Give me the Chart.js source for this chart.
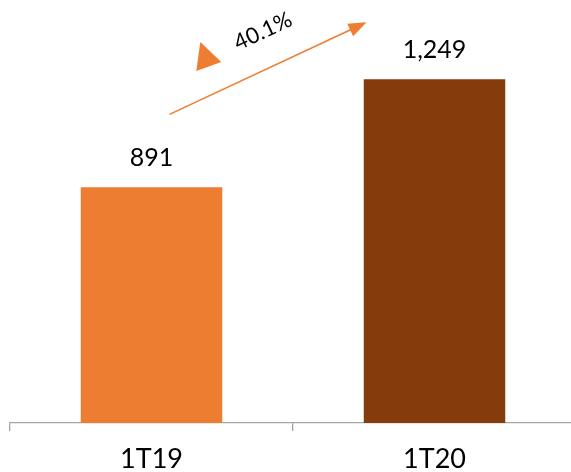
<!DOCTYPE html>
<html>
<head>
<meta charset="utf-8">
<script src="https://cdn.jsdelivr.net/npm/chart.js@4"></script>
<style>
  html, body { margin: 0; padding: 0; background: #fff; overflow: hidden; }
  #wrap { width: 590px; height: 472px; }
</style>
</head>
<body>
<div id="wrap"><canvas id="chart" width="590" height="472"></canvas></div>
<script>
// datos del gráfico
const periodos = ["1T19", "1T20"];
const valores = [891, 1249];
const etiquetas = ["891", "1,249"];
const colores = ["#ED7D31", "#843C0C"];
const crecimiento = "40.1%";

const fuente = "Lato, 'Noto Sans', sans-serif";

// etiquetas encima de las barras
const etiquetasBarras = {
  id: "etiquetasBarras",
  afterDatasetsDraw(chart) {
    const ctx = chart.ctx;
    const meta = chart.getDatasetMeta(0);
    ctx.save();
    ctx.fillStyle = "#000";
    ctx.font = "25px " + fuente;
    ctx.textAlign = "center";
    ctx.textBaseline = "middle";
    meta.data.forEach((bar, i) => {
      ctx.fillText(etiquetas[i], bar.x, bar.y - 29);
    });
    ctx.restore();
  },
};

// flecha de crecimiento entre barras
const flecha = {
  id: "flecha",
  afterDatasetsDraw(chart) {
    const ctx = chart.ctx;
    const meta = chart.getDatasetMeta(0);
    const b1 = meta.data[0];
    const b2 = meta.data[1];
    const x1 = b1.x + 18, y1 = b1.y - 73;
    const x2 = b2.x - 68, y2 = b2.y - 57;
    const ang = Math.atan2(y2 - y1, x2 - x1);
    const mx = (x1 + x2) / 2, my = (y1 + y2) / 2;

    ctx.save();
    ctx.strokeStyle = "#ED7D31";
    ctx.fillStyle = "#ED7D31";
    ctx.lineWidth = 1.6;
    ctx.beginPath();
    ctx.moveTo(x1, y1);
    ctx.lineTo(x2 - 14 * Math.cos(ang), y2 - 14 * Math.sin(ang));
    ctx.stroke();

    // punta
    ctx.save();
    ctx.translate(x2, y2);
    ctx.rotate(ang);
    ctx.beginPath();
    ctx.moveTo(0, 0);
    ctx.lineTo(-18, -7);
    ctx.lineTo(-18, 7);
    ctx.closePath();
    ctx.fill();
    ctx.restore();

    // triángulo
    const tx = mx - 62, ty = my - 10;
    ctx.beginPath();
    ctx.moveTo(tx - 9.7, ty + 12.7);
    ctx.lineTo(tx - 5.7, ty - 16.3);
    ctx.lineTo(tx + 15.3, ty + 3.7);
    ctx.closePath();
    ctx.fill();

    // texto
    ctx.translate(mx - 5, my - 37);
    ctx.rotate(ang);
    ctx.fillStyle = "#000";
    ctx.font = "22px " + fuente;
    ctx.textAlign = "center";
    ctx.textBaseline = "middle";
    ctx.fillText(crecimiento, 0, 0);
    ctx.restore();
  },
};

const grafico = new Chart(document.getElementById("chart"), {
  type: "bar",
  data: {
    labels: periodos,
    datasets: [
      {
        data: valores,
        backgroundColor: colores,
        borderWidth: 0,
        categoryPercentage: 1,
        barPercentage: 0.5,
      },
    ],
  },
  options: {
    responsive: false,
    animation: false,
    events: [],
    layout: { padding: { left: 10, right: 14, top: 0, bottom: 0 } },
    plugins: { legend: { display: false }, tooltip: { enabled: false } },
    scales: {
      x: {
        afterFit(s) { s.height = 49; },
        border: { display: true, color: "#A6A6A6", width: 1.3 },
        grid: {
          offset: true,
          drawOnChartArea: false,
          drawTicks: true,
          tickLength: 8,
          color: "#A6A6A6",
          lineWidth: 1.3,
        },
        ticks: {
          color: "#000",
          font: { family: fuente, size: 27 },
          padding: 12,
        },
      },
      y: {
        display: false,
        min: 110,
        max: 1512,
      },
    },
  },
  plugins: [etiquetasBarras, flecha],
});
</script>
</body>
</html>
